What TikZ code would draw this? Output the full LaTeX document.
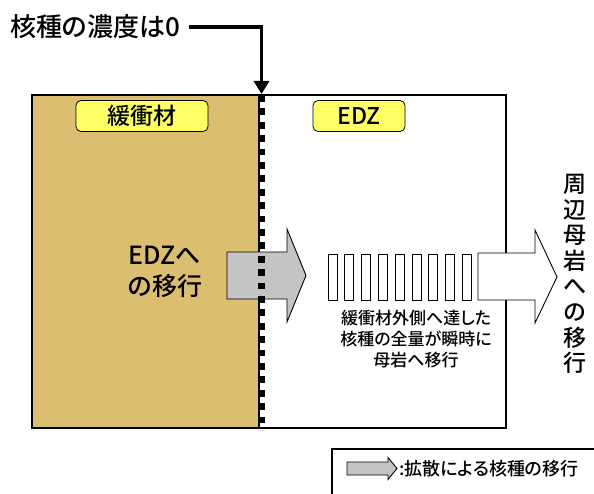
\documentclass[tikz,border=0pt]{standalone}
\usepackage{fontspec}
\setmainfont{Noto Sans CJK JP Medium}[RawFeature={+palt}]
\usetikzlibrary{arrows.meta}
\definecolor{tan}{RGB}{220,190,112}
\definecolor{lblyellow}{RGB}{255,255,102}
\definecolor{arrowgrey}{RGB}{196,196,196}
\tikzset{
  label box/.style={draw=black, line width=0.8pt, fill=lblyellow, rounded corners=5pt, minimum height=31pt, inner sep=0pt, font=\fontsize{23}{24}\selectfont},
  bar/.style={draw=black, line width=0.8pt, fill=white},
  plain text/.style={inner sep=0pt, align=center}
}
\begin{document}
\begin{tikzpicture}[x=1pt,y=-1pt]
\useasboundingbox (0,0) rectangle (594,494);
\clip (0,0) rectangle (594,494);
% main regions
\fill[tan] (32,95) rectangle (259,428);
\draw[line width=1.2pt] (259,428) -- (32,428) -- (32,95) -- (259,95);
\draw[line width=1.2pt, fill=white] (259,95) rectangle (506,428);
% labels
\node[label box, minimum width=132pt] (buf) at (142,116) {緩衝材};
\node[label box, minimum width=92pt] (edz) at (359,116) {EDZ};
% left text
\node[plain text, font=\fontsize{25}{31}\selectfont] (edzmove) at (165,272) {EDZへ\\の移行};
% grey diffusion arrow
\draw[line width=0.9pt, fill=arrowgrey] (227,252) -- (287,252) -- (287,229) -- (306,275.5) -- (287,322) -- (287,299) -- (227,299) -- cycle;
% boundary dashed line
\coordinate (btop) at (261.5,94);
\coordinate (bbot) at (261.5,430);
\draw[line width=7pt, dash pattern=on 6.8pt off 6.6pt] (261.5,95) -- (bbot);
% top label and pointer
\node[plain text, anchor=west, font=\fontsize{26}{28}\selectfont] (title) at (10,27) {核種の濃度は0};
\draw[line width=3.5pt, -{Triangle[width=15pt,length=13pt]}] ([xshift=9pt]title.east) -| (btop);
% bars
\foreach \k in {0,...,8} {
  \draw[bar] ({328+16.8*\k},254) rectangle ({337+16.8*\k},300);
}
% outline arrow to host rock
\draw[line width=0.9pt, fill=white] (478,253) -- (535,253) -- (535,230) -- (557,277) -- (535,323) -- (535,300) -- (478,300) -- cycle;
% caption
\node[plain text, font=\fontsize{17}{21}\selectfont] (cap) at (416,339) {緩衝材外側へ達した\\核種の全量が瞬時に\\母岩へ移行};
% vertical text
\node[plain text, font=\fontsize{23}{25.6}\selectfont] (host) at (575,274) {周\\辺\\母\\岩\\へ\\の\\移\\行};
% legend
\draw[line width=1.2pt] (332,500) -- (332,449) -- (600,449);
\draw[line width=0.9pt, fill=arrowgrey] (347,462) -- (388,462) -- (388,457.5) -- (397,468.5) -- (388,479.5) -- (388,475) -- (347,475) -- cycle;
\node[plain text, anchor=west, font=\fontsize{18}{20}\selectfont] (legend) at (399,469) {:拡散による核種の移行};
\end{tikzpicture}
\end{document}
